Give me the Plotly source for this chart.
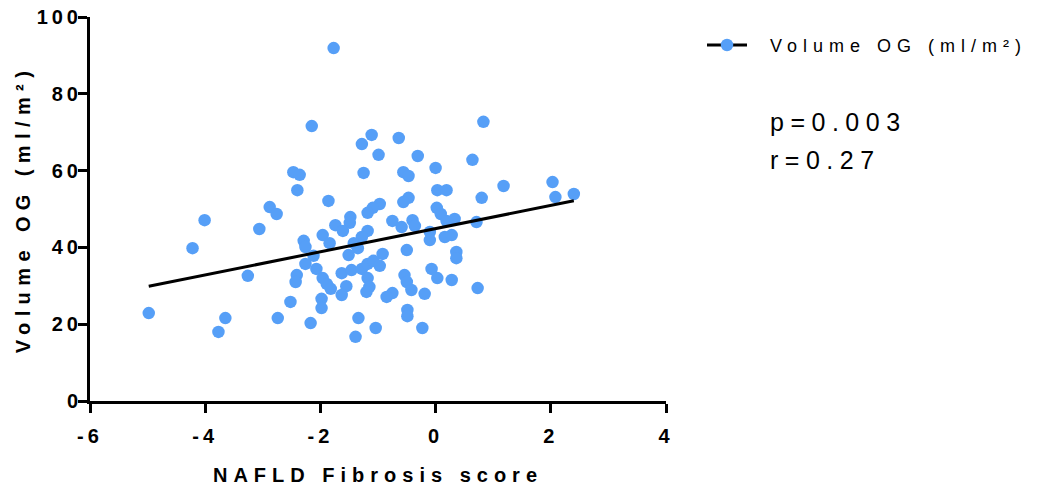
import plotly.graph_objects as go

# NAFLD Fibrosis score (x) vs Volume OG in ml/m² (y)
nfs = [-1.77, -2.15, -1.11, -0.64, -1.28, -0.99, -0.31, 0.83, 0.64, -2.47,
       -2.36, -1.25, -0.56, -0.47, 0.00, -2.40, 0.03, 0.19, 1.18, 2.03,
       2.08, 2.40, 0.80, -1.86, -0.47, -0.56, -2.88, -2.76, -4.01, -4.22,
       -3.06, -3.26, -4.98, -3.65, -3.77, -2.74, -2.52, -2.17, -1.39, -1.34,
       -1.04, -0.23, -0.97, -1.09, -1.18, -1.48, -1.49, -1.74, -1.61, -1.96,
       -1.84, -2.29, -2.26, -0.75, -0.59, -0.40, -0.36, -1.18, -1.28, -1.42,
       -1.35, -0.50, -0.92, -1.51, -2.12, -2.26, -2.07, -2.41, -2.43, -1.96,
       -1.89, -1.82, -1.63, -1.46, -1.28, -1.18, -1.08, -0.97, -1.55, -1.63,
       -1.18, -1.15, -1.20, -1.98, -1.98, -0.54, -0.50, -0.42, -0.75, -0.85,
       -0.49, -0.49, 0.02, 0.09, 0.19, 0.33, 0.71, -0.10, -0.10, 0.16,
       0.28, 0.36, 0.36, -0.07, 0.03, 0.28, 0.73, -0.19]
volume_og = [91.9, 71.6, 69.3, 68.5, 66.9, 64.1, 63.8, 72.7, 62.8, 59.6,
             58.9, 59.4, 59.6, 58.6, 60.7, 54.9, 54.9, 54.9, 56.0, 57.0,
             53.1, 53.9, 52.9, 52.1, 52.9, 51.8, 50.5, 48.7, 47.1, 39.8,
             44.8, 32.6, 22.9, 21.6, 18.0, 21.6, 25.8, 20.3, 16.7, 21.6,
             19.0, 19.0, 51.3, 50.3, 49.0, 47.9, 46.4, 45.8, 44.3, 43.2,
             41.1, 41.7, 40.1, 46.9, 45.3, 47.1, 45.6, 44.3, 42.7, 41.1,
             39.8, 39.3, 38.3, 38.0, 37.8, 35.7, 34.4, 32.8, 31.0, 32.0,
             30.5, 29.2, 33.3, 34.1, 34.4, 35.7, 36.5, 35.2, 29.9, 27.6,
             32.0, 29.7, 28.4, 26.6, 24.2, 32.8, 31.0, 28.9, 28.1, 27.1,
             23.7, 22.1, 50.3, 48.7, 46.9, 47.4, 46.6, 44.0, 41.9, 42.7,
             43.2, 38.8, 37.2, 34.4, 32.0, 31.5, 29.4, 27.9]

# linear regression
fit_slope = 3.02
fit_intercept = 44.9

series_name = "Volume OG (ml/m²)"
x_title = "NAFLD Fibrosis score"
y_title = "Volume OG (ml/m²)"
stats_lines = ["p=0.003", "r=0.27"]
x_ticks = [-6, -4, -2, 0, 2, 4]
x_tick_labels = ["-6", "-4", "-2", "0", "2", "4"]
y_ticks = [0, 20, 40, 60, 80, 100]

BLUE = "#569FF7"
FONT = "Liberation Sans, Arial, sans-serif"
W, H = 1046, 496
ML, MR, MT, MB = 90, 380, 17, 95
PW, PH = W - ML - MR, H - MT - MB


def px_x(p):
    return (p - ML) / PW


def px_y(p):
    return (H - MB - p) / PH


fx = [min(nfs), max(nfs)]
fy = [fit_intercept + fit_slope * v for v in fx]

fig = go.Figure()
fig.add_trace(go.Scatter(x=nfs, y=volume_og, mode="markers",
                         marker=dict(color=BLUE, size=12.5, line=dict(width=0)),
                         showlegend=False, cliponaxis=False))
fig.add_trace(go.Scatter(x=fx, y=fy, mode="lines",
                         line=dict(color="black", width=3),
                         showlegend=False))

axis_common = dict(showline=True, linecolor="black", linewidth=3,
                   ticks="outside", ticklen=9, tickwidth=3, tickcolor="black",
                   showgrid=False, zeroline=False, automargin=False,
                   tickfont=dict(family=FONT, size=20, color="black", weight="bold"))

fig.update_xaxes(range=[-6, 4], tickvals=x_ticks, ticktext=x_tick_labels,
                 ticklabelstandoff=6, **axis_common,
                 title=dict(text=x_title, standoff=22,
                            font=dict(family=FONT, size=20, color="black", weight="bold")))
fig.update_yaxes(range=[0, 100], tickvals=y_ticks, ticklabelstandoff=-8, **axis_common,
                 title=dict(text=y_title, standoff=13,
                            font=dict(family=FONT, size=20, color="black", weight="bold")))

# legend key: line with marker, then the series name
fig.add_shape(type="line", xref="paper", yref="paper",
              x0=px_x(707), x1=px_x(747), y0=px_y(45), y1=px_y(45),
              line=dict(color="black", width=3))
fig.add_shape(type="circle", xref="paper", yref="paper",
              x0=px_x(727 - 6.25), x1=px_x(727 + 6.25),
              y0=px_y(45 + 6.25), y1=px_y(45 - 6.25),
              fillcolor=BLUE, line=dict(width=0))
fig.add_annotation(text=series_name, xref="paper", yref="paper",
                   x=px_x(768), y=px_y(46), xanchor="left", yanchor="middle",
                   align="left", showarrow=False,
                   font=dict(family=FONT, size=18, color="black"))

for i, s in enumerate(stats_lines):
    fig.add_annotation(text=s, xref="paper", yref="paper",
                       x=px_x(768), y=px_y(122 + i * 38), xanchor="left", yanchor="middle",
                       align="left", showarrow=False,
                       font=dict(family=FONT, size=25, color="black"))

fig.update_layout(
    template="none",
    width=W, height=H,
    margin=dict(l=ML, r=MR, t=MT, b=MB, autoexpand=False),
    paper_bgcolor="white", plot_bgcolor="white",
    showlegend=False,
)

post = """
document.body.style.margin = '0';
document.body.style.padding = '0';
var gd = document.getElementById('{plot_id}');
function sp(){
  gd.querySelectorAll('.g-xtitle text').forEach(function(e){e.style.letterSpacing='6px';});
  gd.querySelectorAll('.g-ytitle text').forEach(function(e){e.style.letterSpacing='6.4px';});
  gd.querySelectorAll('.xtick text, .ytick text').forEach(function(e){e.style.letterSpacing='4px';});
  gd.querySelectorAll('.annotation-text').forEach(function(e){
    var t = e.textContent || '';
    e.style.letterSpacing = (t.indexOf('Volume') >= 0) ? '6px' : '6.5px';
  });
}
sp();
if (gd.on) { gd.on('plotly_afterplot', sp); }
"""

fig.write_html("out.html", post_script=post, config={"displayModeBar": False})
